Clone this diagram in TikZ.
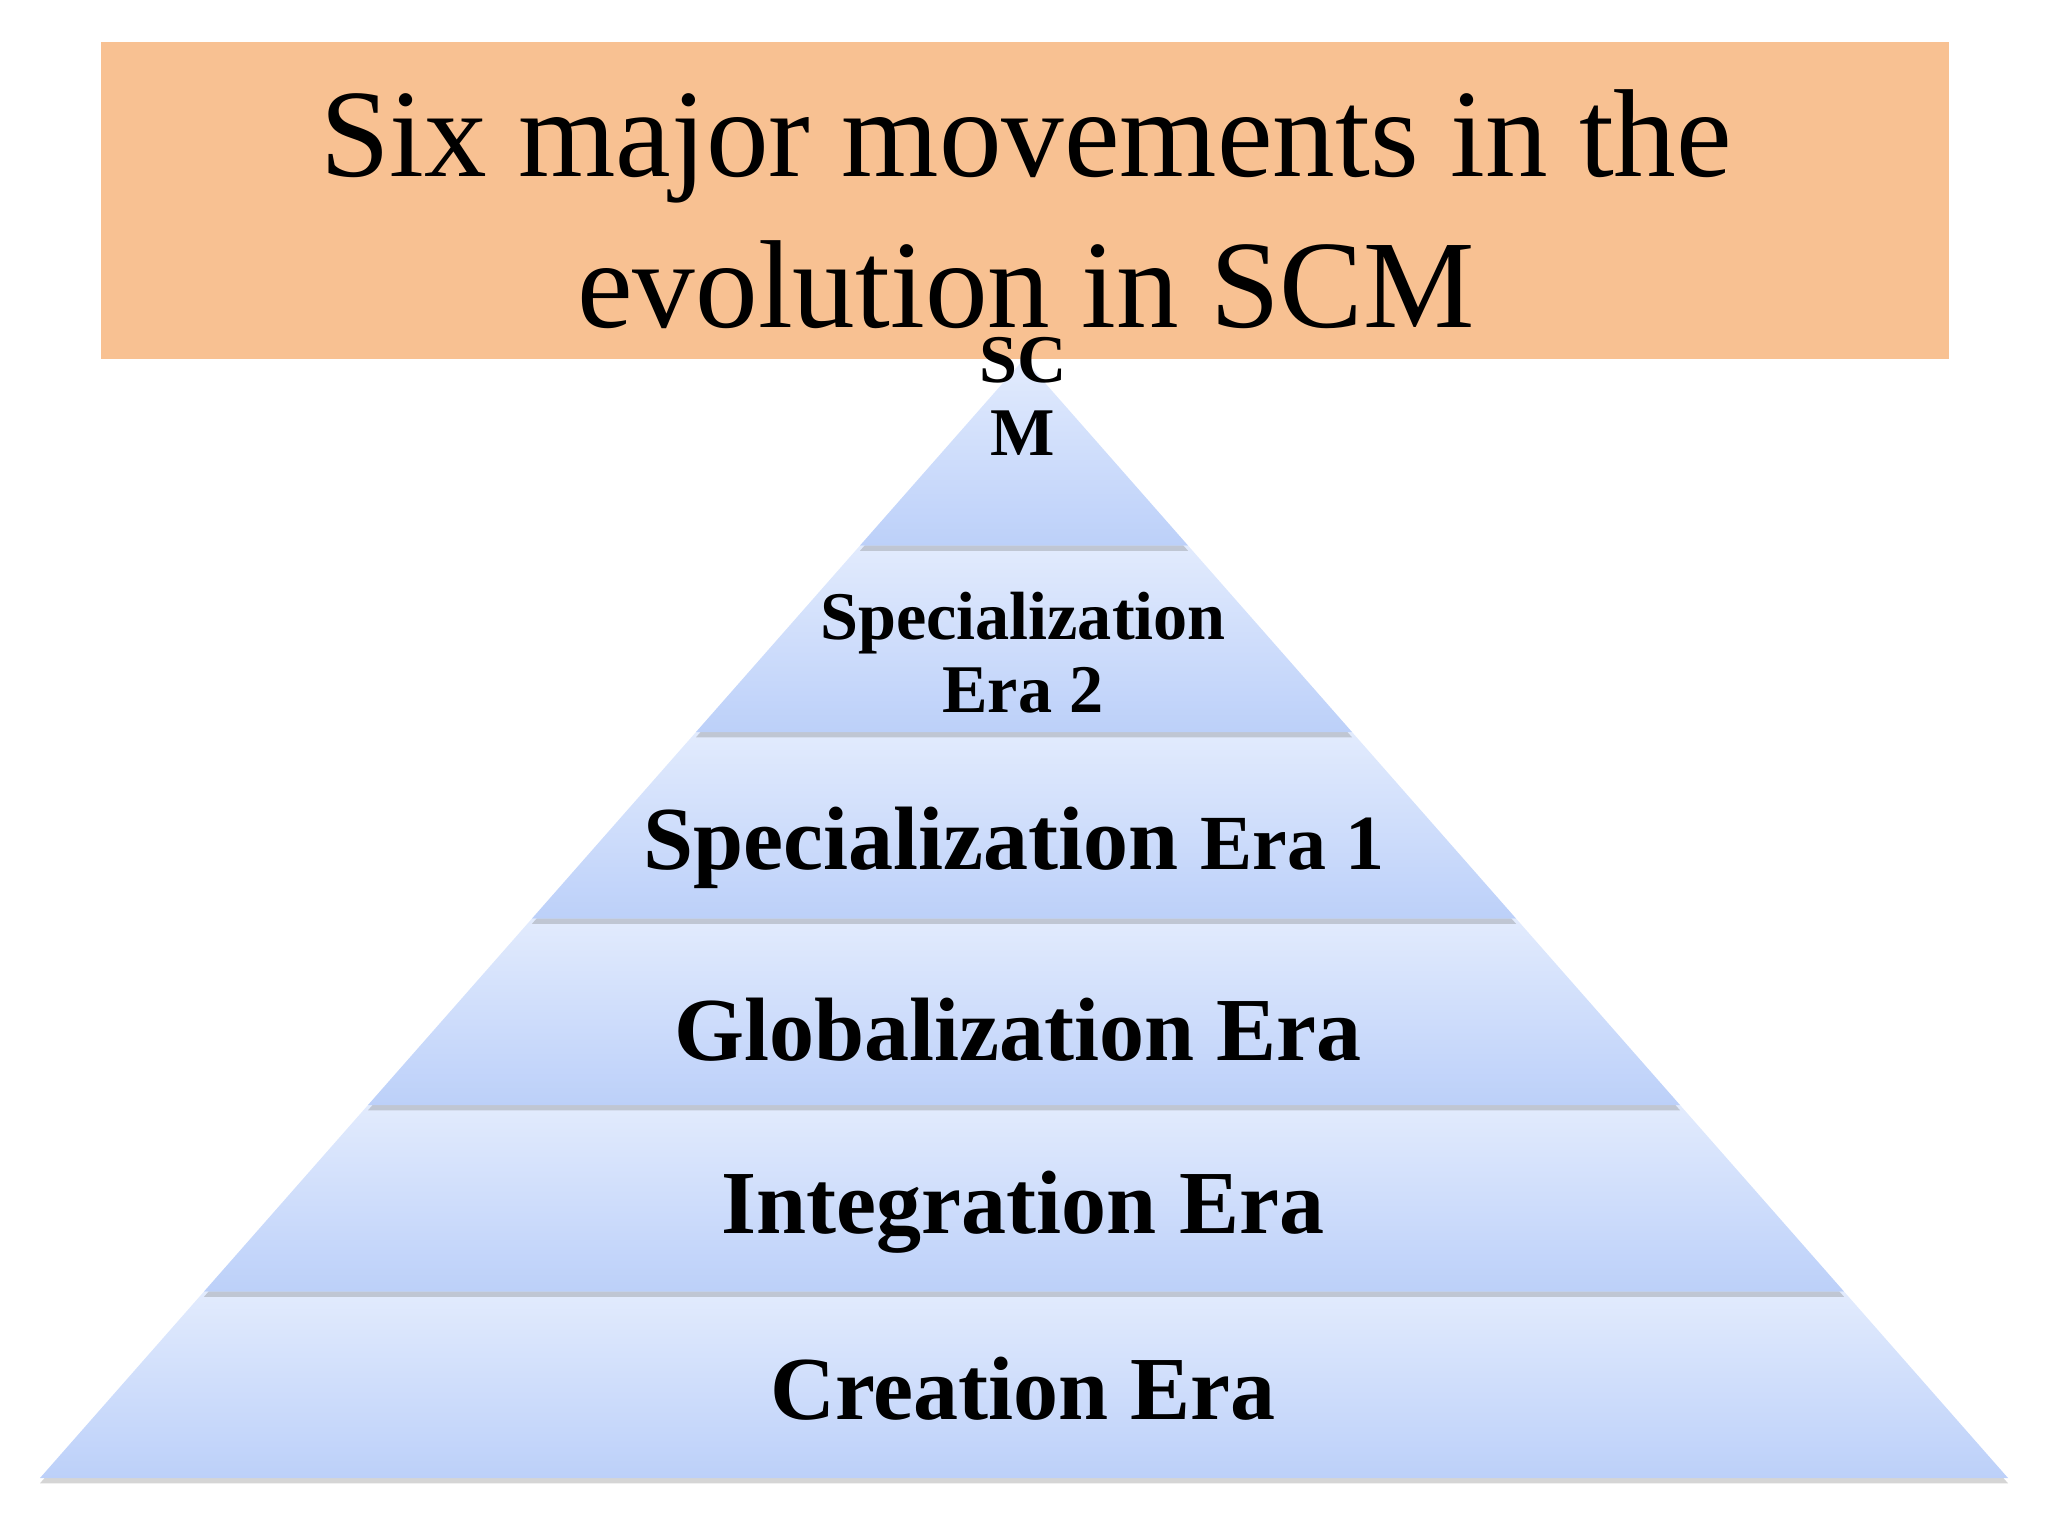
\documentclass[tikz,border=0pt]{standalone}
\usepackage{fontspec}
\setmainfont{Liberation Serif}
\usetikzlibrary{shadows}
\definecolor{tiertop}{RGB}{226,235,253}
\definecolor{tierbot}{RGB}{188,208,249}
\definecolor{titlebg}{RGB}{248,193,146}
\tikzset{
  tier/.style={top color=tiertop, bottom color=tierbot, draw=none,
    drop shadow={shadow xshift=0pt, shadow yshift=-1.5pt, opacity=0.3, fill=black!55}},
  era/.style={anchor=base, inner sep=0pt, font=\bfseries\fontsize{25.6}{30}\selectfont},
  smallera/.style={anchor=base, inner sep=0pt, align=center, font=\bfseries\fontsize{19.4}{20.6}\selectfont},
  titletext/.style={anchor=base, inner sep=0pt, align=center, font=\fontsize{35.6}{42.7}\selectfont}
}

\begin{document}
\begin{tikzpicture}[x=0.01cm, y=-0.01cm]
\useasboundingbox (0,0) rectangle (2048,1536);
% Tiers, bottom one first
    \path[tier] (40,1478) -- (204,1291.5) -- (1844,1291.5) -- (2008,1478) -- cycle;
    \path[tier] (204,1291.5) -- (368,1105) -- (1680,1105) -- (1844,1291.5) -- cycle;
    \path[tier] (368,1105) -- (532,918.5) -- (1516,918.5) -- (1680,1105) -- cycle;
    \path[tier] (532,918.5) -- (696,732) -- (1352,732) -- (1516,918.5) -- cycle;
    \path[tier] (696,732) -- (860,545.5) -- (1188,545.5) -- (1352,732) -- cycle;
    \path[tier] (860,545.5) -- (1024,359) -- (1188,545.5) -- cycle;
% Title (base is the last line)
    \fill[titlebg] (101,42) rectangle (1949,359);
    \node[titletext] (title) at (1026,327) {Six major movements in the\\evolution in SCM};
% Era labels
    \node[era] (creation) at (1023,1419) {Creation Era};
    \node[era] (integration) at (1023,1233) {Integration Era};
    \node[era] (globalization) at (1018,1060) {Globalization Era};
    \node[era] (spec1) at (1014,869) {Specialization {\fontsize{22.2}{26}\selectfont Era 1}};
    \node[smallera] (spec2) at (1023,712) {Specialization\\Era 2};
    \node[smallera] (scm) at (1023,455) {SC\\M};
\end{tikzpicture}
\end{document}
